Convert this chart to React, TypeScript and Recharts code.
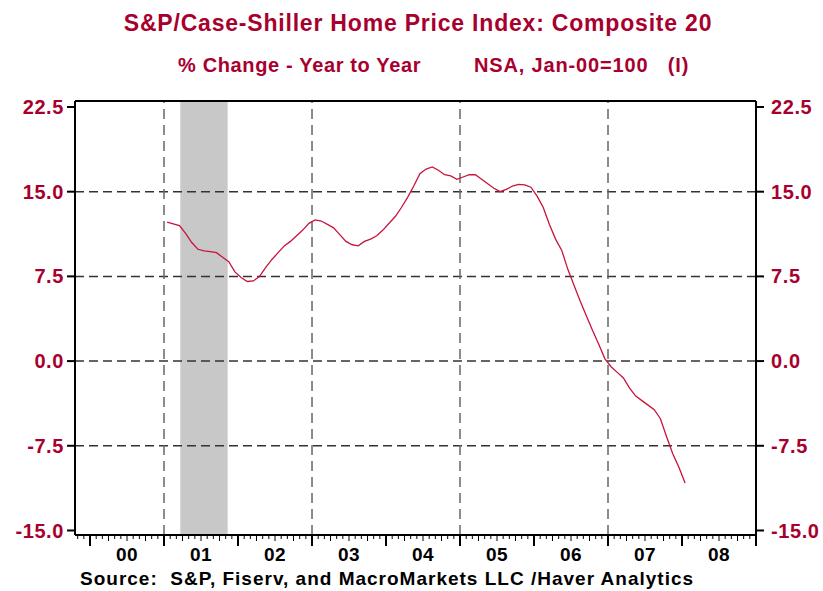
import { LineChart, Line, XAxis, YAxis, ReferenceLine, ReferenceArea } from 'recharts';

// S&P/Case-Shiller Composite 20, % change year to year, monthly Jan-01 .. Jan-08
const startYear = 2001;
const yoyChange = [
  12.3, 12.15, 12.0, 11.3, 10.5, 9.9, 9.75, 9.7, 9.6, 9.2, 8.8, 7.9,
  7.4, 7.05, 7.1, 7.5, 8.3, 9.0, 9.6, 10.2, 10.6, 11.1, 11.6, 12.2,
  12.5, 12.4, 12.1, 11.8, 11.2, 10.6, 10.3, 10.2, 10.6, 10.8, 11.1, 11.6,
  12.2, 12.8, 13.6, 14.5, 15.5, 16.6, 17.0, 17.2, 16.9, 16.5, 16.4, 16.1,
  16.3, 16.5, 16.5, 16.1, 15.7, 15.3, 15.0, 15.2, 15.5, 15.65, 15.6, 15.4,
  14.6, 13.6, 12.1, 10.8, 9.8, 8.1, 6.7, 5.3, 4.0, 2.7, 1.5, 0.2,
  -0.5, -1.0, -1.5, -2.4, -3.1, -3.5, -3.9, -4.3, -5.1, -6.7, -8.2, -9.4,
  -10.8,
];

const yearLabels = ['00', '01', '02', '03', '04', '05', '06', '07', '08'];
const yTicks = [-15, -7.5, 0, 7.5, 15, 22.5];
const hGrid = [15, 7.5, 0, -7.5];
const vGrid = [2001, 2003, 2005, 2007];
const recession = [2001.22, 2001.86];

const X_MIN = 1999.797;
const X_MAX = 2009;
const Y_MIN = -15.4;
const Y_MAX = 23.03;

const RED = '#A8002E';
const FONT = '"Liberation Sans", Arial, sans-serif';

const data = yoyChange.map((v, i) => ({ t: startYear + (i + 0.5) / 12, v }));

// monthly tick marks along the bottom axis
const monthTicks: number[] = [];
for (let k = -2; k <= 108; k++) monthTicks.push(2000 + k / 12);

const MonthTick = (props: any) => {
  const { x, y, payload } = props;
  const k = Math.round((payload.value - 2000) * 12);
  const len = k % 12 === 0 ? 11 : k % 3 === 0 ? 6 : 4;
  const yr = Math.floor(k / 12);
  return (
    <g>
      <line x1={x} x2={x} y1={y} y2={y + len} stroke="#000" strokeWidth={k % 12 === 0 ? 2 : 1} />
      {k % 12 === 6 && yr >= 0 && yr < yearLabels.length && (
        <text x={x} y={y + 26} textAnchor="middle" fontSize={19} fontWeight="bold" fill="#000" fontFamily={FONT} letterSpacing={0.5}>
          {yearLabels[yr]}
        </text>
      )}
    </g>
  );
};

const yTickStyle = { fill: RED, fontSize: 20, fontWeight: 'bold', fontFamily: FONT, letterSpacing: 0.6 };

export default function App() {
  return (
    <div style={{ position: 'absolute', left: 0, top: 0, width: 823, height: 591, background: '#fff', fontFamily: FONT }}>
      <div style={{ position: 'absolute', left: 0, top: 12, width: 836, textAlign: 'center', fontSize: 23, lineHeight: '23px', fontWeight: 'bold', color: RED, letterSpacing: 0.8 }}>
        S&amp;P/Case-Shiller Home Price Index: Composite 20
      </div>
      <div style={{ position: 'absolute', left: 178, top: 55, fontSize: 20, lineHeight: '20px', fontWeight: 'bold', color: RED, whiteSpace: 'pre', letterSpacing: 0.65 }}>
        % Change - Year to Year
      </div>
      <div style={{ position: 'absolute', left: 474, top: 55, fontSize: 20, lineHeight: '20px', fontWeight: 'bold', color: RED, whiteSpace: 'pre', letterSpacing: 0.85 }}>
        NSA, Jan-00=100   (I)
      </div>

      <LineChart width={823} height={591} data={data} margin={{ top: 101, right: 0, bottom: 0, left: 0 }}>
        <XAxis
          dataKey="t"
          type="number"
          domain={[X_MIN, X_MAX]}
          allowDataOverflow
          ticks={monthTicks}
          interval={0}
          tick={<MonthTick />}
          tickLine={false}
          tickSize={0}
          tickMargin={0}
          height={56}
          axisLine={{ stroke: '#000', strokeWidth: 2 }}
        />
        <YAxis
          yAxisId="left"
          domain={[Y_MIN, Y_MAX]}
          allowDataOverflow
          ticks={yTicks}
          interval={0}
          width={75}
          tickSize={8}
          tickMargin={3}
          tick={yTickStyle}
          tickFormatter={(v: number) => v.toFixed(1)}
          tickLine={{ stroke: '#000', strokeWidth: 2 }}
          axisLine={{ stroke: '#000', strokeWidth: 2 }}
        />
        <YAxis
          yAxisId="right"
          orientation="right"
          domain={[Y_MIN, Y_MAX]}
          allowDataOverflow
          ticks={yTicks}
          interval={0}
          width={67}
          tickSize={8}
          tickMargin={7}
          tick={yTickStyle}
          tickFormatter={(v: number) => v.toFixed(1)}
          tickLine={{ stroke: '#000', strokeWidth: 2 }}
          axisLine={{ stroke: '#000', strokeWidth: 2 }}
        />
        <ReferenceArea yAxisId="left" x1={recession[0]} x2={recession[1]} y1={Y_MIN} y2={Y_MAX} fill="#C8C8C8" fillOpacity={1} stroke="none" />
        {hGrid.map((g) => (
          <ReferenceLine key={'h' + g} yAxisId="left" y={g} stroke="#333" strokeWidth={1.5} strokeDasharray="9 5" />
        ))}
        {vGrid.map((g) => (
          <ReferenceLine key={'v' + g} yAxisId="left" x={g} stroke="#666" strokeWidth={1.5} strokeDasharray="10 6" />
        ))}
        <ReferenceLine yAxisId="left" y={Y_MAX} stroke="#000" strokeWidth={2} />
        <Line yAxisId="left" type="linear" dataKey="v" stroke="#C8143C" strokeWidth={1.3} dot={false} isAnimationActive={false} />
      </LineChart>

      <div style={{ position: 'absolute', left: 80, top: 569, fontSize: 19, lineHeight: '19px', fontWeight: 'bold', color: '#000', whiteSpace: 'pre', letterSpacing: 1 }}>
        Source:  S&amp;P, Fiserv, and MacroMarkets LLC /Haver Analytics
      </div>
    </div>
  );
}
